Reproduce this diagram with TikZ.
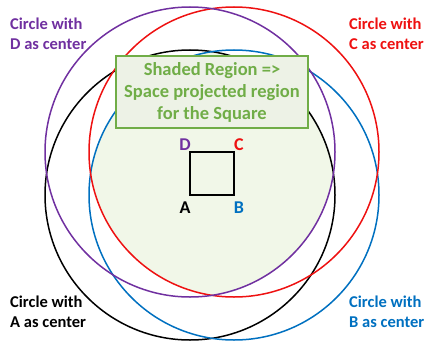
\documentclass[tikz,border=0pt]{standalone}
\usepackage{fontspec}
\setmainfont{Carlito}
\usepackage{xcolor}
\usetikzlibrary{positioning}

\definecolor{cpurple}{HTML}{7030A0}
\definecolor{cred}{HTML}{EE1111}
\definecolor{cblue}{HTML}{0070C0}
\definecolor{cgreen}{HTML}{70AD47}
\definecolor{shadegreen}{HTML}{F1F7E8}
\definecolor{notefill}{HTML}{EDF2E6}

\begin{document}
\begin{tikzpicture}[
      x=1pt, y=-1pt,
      ring/.style={line width=1.5pt},
      lbl/.style={inner sep=0pt, align=left, font=\bfseries\fontsize{16.5}{20}\selectfont},
      corner/.style={inner sep=0pt, font=\bfseries\fontsize{18}{20}\selectfont},
      note/.style={draw=cgreen, line width=1.6pt, fill=notefill, text=cgreen, align=center,
        minimum width=192pt, minimum height=72pt, inner sep=2pt,
        font=\bfseries\fontsize{18.5}{22}\selectfont}
    ]
    \useasboundingbox (0,0) rectangle (428,345);
    \coordinate (A) at (190,195);
    \coordinate (B) at (234,195);
    \coordinate (C) at (234,152);
    \coordinate (D) at (190,152);

    % shaded region: common part of the four circles
    \begin{scope}
      \clip (A) circle[radius=145pt];
      \clip (B) circle[radius=145pt];
      \clip (C) circle[radius=145pt];
      \fill[shadegreen] (D) circle[radius=145pt];
    \end{scope}

    \draw[ring, black] (A) circle[radius=145pt];
    \draw[ring, cblue] (B) circle[radius=145pt];
    \draw[ring, cred] (C) circle[radius=145pt];
    \draw[ring, cpurple] (D) circle[radius=145pt];

    \draw[line width=1.3pt] (A) -- (B) -- (C) -- (D) -- cycle;

    \node[corner, text=black] (lA) at (185,208) {A};
    \node[corner, text=cblue] (lB) at (239,208) {B};
    \node[corner, text=cred] (lC) at (239,145) {C};
    \node[corner, text=cpurple] (lD) at (185,145) {D};

    \node[note] (box) at (212,92) {Shaded Region =>\\Space projected region\\for the Square};

    \node[lbl, text=cpurple, anchor=north west] (tD) at (10,18) {Circle with\\D as center};
    \node[lbl, text=cred, anchor=north west] (tC) at (349,18) {Circle with\\C as center};
    \node[lbl, text=black, anchor=north west] (tA) at (10,296) {Circle with\\A as center};
    \node[lbl, text=cblue, anchor=north west] (tB) at (349,296) {Circle with\\B as center};
  \end{tikzpicture}
\end{document}
